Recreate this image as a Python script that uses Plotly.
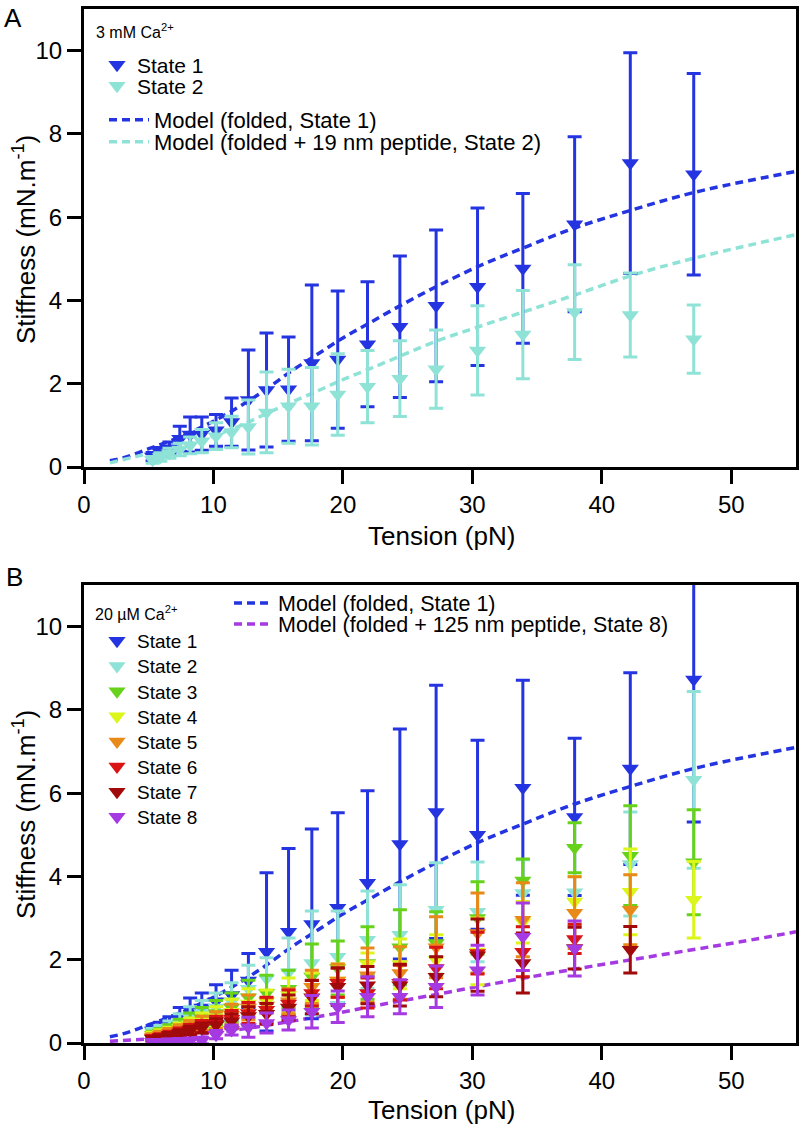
import plotly.graph_objects as go

FONT = "Liberation Sans, Arial, Helvetica, sans-serif"

# ---------------- data ----------------
tension = [5.3, 5.9, 6.6, 7.4, 8.2, 9.1, 10.2, 11.4, 12.7, 14.1, 15.8, 17.6, 19.6, 21.9,
           24.4, 27.2, 30.4, 33.9, 37.9, 42.2, 47.1]

# Panel A (3 mM Ca2+)
a_state1 = [0.25, 0.35, 0.45, 0.68, 0.78, 0.80, 0.88, 1.08, 1.61, 1.85, 1.87, 2.50, 2.58, 2.95,
            3.37, 3.87, 4.33, 4.77, 5.83, 7.30, 7.03]
a_state1_err = [0.10, 0.12, 0.15, 0.30, 0.42, 0.40, 0.38, 0.58, 1.20, 1.37, 1.25, 1.87, 1.65, 1.50,
                1.70, 1.82, 1.89, 1.80, 2.10, 2.65, 2.42]
a_state2 = [0.17, 0.24, 0.33, 0.42, 0.52, 0.62, 0.74, 0.84, 0.96, 1.31, 1.46, 1.46, 1.74, 1.93,
            2.12, 2.35, 2.80, 3.18, 3.72, 3.65, 3.07]
a_state2_err = [0.08, 0.10, 0.12, 0.15, 0.20, 0.28, 0.32, 0.38, 0.65, 0.97, 0.89, 0.93, 0.98, 0.87,
                0.91, 0.94, 1.07, 1.06, 1.14, 1.01, 0.82]

# Panel B (20 uM Ca2+)
b_state1 = [0.30, 0.35, 0.45, 0.60, 0.80, 0.85, 1.00, 1.15, 1.50, 2.19, 2.67, 2.86, 3.25, 3.85,
            4.78, 5.55, 5.00, 6.13, 5.43, 6.59, 8.73]
b_state1_err = [0.12, 0.15, 0.18, 0.25, 0.28, 0.35, 0.40, 0.60, 0.65, 1.90, 2.00, 2.28, 2.28, 2.21,
                2.76, 3.04, 2.27, 2.58, 1.89, 2.30, 3.42]
b_state2 = [0.25, 0.30, 0.38, 0.50, 0.62, 0.72, 0.85, 1.00, 1.30, 1.55, 1.70, 1.92, 2.07, 2.48,
            2.60, 3.20, 3.15, 3.60, 3.62, 4.30, 6.32]
b_state2_err = [0.10, 0.12, 0.15, 0.20, 0.25, 0.30, 0.35, 0.45, 0.57, 0.50, 0.82, 1.25, 1.10, 1.17,
                1.20, 1.13, 1.20, 0.80, 1.10, 1.25, 2.12]
b_state3 = [0.20, 0.25, 0.32, 0.42, 0.52, 0.60, 0.72, 0.85, 1.10, 1.20, 1.30, 1.60, 1.80, 1.92,
            2.30, 2.40, 3.00, 3.90, 4.69, 4.50, 4.34]
b_state3_err = [0.08, 0.10, 0.12, 0.15, 0.20, 0.25, 0.30, 0.35, 0.41, 0.43, 0.45, 0.78, 0.65, 0.87,
                0.90, 0.75, 0.87, 0.52, 0.60, 1.20, 1.26]
b_state4 = [0.18, 0.22, 0.28, 0.36, 0.45, 0.52, 0.62, 0.75, 0.95, 1.00, 1.15, 1.35, 1.50, 1.90,
            1.90, 2.00, 2.20, 2.90, 3.40, 3.63, 3.44]
b_state4_err = [0.08, 0.10, 0.10, 0.12, 0.15, 0.20, 0.25, 0.30, 0.35, 0.27, 0.41, 0.33, 0.40, 0.26,
                0.60, 0.60, 0.80, 0.50, 0.60, 1.03, 0.92]
b_state5 = [0.15, 0.20, 0.25, 0.32, 0.40, 0.47, 0.55, 0.68, 0.85, 0.90, 1.00, 1.35, 1.50, 1.63,
            1.68, 2.30, 2.64, 2.96, 3.13, 3.20, None]
b_state5_err = [0.07, 0.08, 0.10, 0.12, 0.14, 0.17, 0.20, 0.25, 0.30, 0.18, 0.30, 0.40, 0.40, 0.65,
                0.63, 0.73, 0.96, 0.89, 0.86, 0.84, None]
b_state6 = [0.12, 0.15, 0.20, 0.26, 0.33, 0.40, 0.47, 0.58, 0.72, 0.80, 0.95, 1.20, 1.45, 1.20,
            1.45, 1.80, 2.16, 2.19, 2.50, None, None]
b_state6_err = [0.06, 0.07, 0.08, 0.10, 0.12, 0.14, 0.17, 0.20, 0.25, 0.30, 0.32, 0.31, 0.35, 0.36,
                0.42, 0.50, 0.50, 0.60, 0.35, None, None]
b_state7 = [0.10, 0.13, 0.18, 0.23, 0.30, 0.36, 0.43, 0.52, 0.65, 0.70, 0.85, 1.10, 1.35, 1.39,
            1.39, 1.59, 2.11, 1.92, 2.28, 2.24, None]
b_state7_err = [0.05, 0.06, 0.07, 0.09, 0.10, 0.12, 0.15, 0.18, 0.22, 0.25, 0.30, 0.40, 0.45, 0.45,
                0.50, 0.48, 0.87, 0.72, 0.50, 0.56, None]
b_state8 = [0.03, 0.03, 0.04, 0.05, 0.05, 0.06, 0.20, 0.31, 0.38, 0.48, 0.55, 0.75, 0.87, 1.11,
            1.11, 1.35, 1.75, 2.55, 2.27, None, None]
b_state8_err = [0.05, 0.05, 0.05, 0.06, 0.07, 0.08, 0.10, 0.12, 0.24, 0.24, 0.24, 0.39, 0.38, 0.48,
                0.41, 0.50, 0.60, 0.81, 0.66, None, None]

# Model curves
model_folded_x = [2, 3, 4, 5, 6, 7, 8, 10, 12, 14, 16, 18, 20, 22, 24.4, 27.2, 30.4, 34, 37.9,
                  42.3, 47.2, 55]
model_folded_y = [0.15, 0.22, 0.32, 0.44, 0.55, 0.67, 0.80, 1.10, 1.45, 1.85, 2.30, 2.70, 3.10,
                  3.45, 3.87, 4.33, 4.81, 5.27, 5.74, 6.17, 6.60, 7.10]
model_19nm_x = [2, 4, 6, 8, 10, 12, 14, 16, 18, 20, 22, 24.4, 27.2, 30.4, 34, 37.9, 42.3, 47.2, 55]
model_19nm_y = [0.10, 0.25, 0.40, 0.55, 0.75, 0.98, 1.27, 1.55, 1.82, 2.10, 2.35, 2.66, 3.02,
                3.36, 3.73, 4.13, 4.60, 5.02, 5.58]
model_125nm_x = [2, 5, 8, 10, 12.8, 16, 19.8, 22.9, 25.2, 30, 34, 38, 42.3, 47, 50.7, 55]
model_125nm_y = [0.04, 0.10, 0.18, 0.24, 0.36, 0.52, 0.73, 0.92, 1.05, 1.33, 1.56, 1.78, 2.00,
                 2.24, 2.43, 2.67]

state_names = ["State 1", "State 2", "State 3", "State 4", "State 5", "State 6", "State 7", "State 8"]
state_colors = ["#2434e0", "#8fe3d6", "#66d21a", "#dcf51a", "#e8891a", "#d81414", "#a00a0a", "#a63ae2"]
x_ticks = [0, 10, 20, 30, 40, 50]
y_ticks = [0, 2, 4, 6, 8, 10]

# ---------------- layout helpers ----------------
W, H = 800, 1127
L, R, T, B = 84, 4, 9, 84
PW, PH = W - L - R, H - T - B


def px_x(px):
    return (px - L) / PW


def px_y(py):
    return (H - B - py) / PH


def legend_at(xpx, ypx, size, itemwidth=30):
    return dict(x=px_x(xpx), y=px_y(ypx), xanchor="left", yanchor="middle",
                bgcolor="rgba(0,0,0,0)", borderwidth=0, itemwidth=itemwidth,
                font=dict(family=FONT, size=size, color="black"),
                itemclick=False, itemdoubleclick=False)


fig = go.Figure()
layout_legends = {}
leg_counter = [0]


def next_legend(spec):
    leg_counter[0] += 1
    name = "legend" if leg_counter[0] == 1 else f"legend{leg_counter[0]}"
    layout_legends[name] = spec
    return name


def model_trace(xs, ys, color, name, xa, ya, legend):
    fig.add_trace(go.Scatter(x=xs, y=ys, mode="lines", name=name, xaxis=xa, yaxis=ya,
                             line=dict(color=color, width=3.5, dash="8px,5px", shape="spline"),
                             legend=legend, hoverinfo="skip"))


def state_trace(ys, errs, color, name, xa, ya, legend):
    fig.add_trace(go.Scatter(x=tension, y=ys, mode="markers", name=name, xaxis=xa, yaxis=ya,
                             marker=dict(symbol="triangle-down", size=15, color=color,
                                         line=dict(width=0)),
                             error_y=dict(type="data", array=errs, visible=True, color=color,
                                          thickness=3, width=7),
                             legend=legend))


# Panel A
model_trace(model_folded_x, model_folded_y, state_colors[0], "Model (folded, State 1)", "x", "y",
            next_legend(legend_at(104, 120, 22, 40)))
model_trace(model_19nm_x, model_19nm_y, state_colors[1], "Model (folded + 19 nm peptide, State 2)",
            "x", "y", next_legend(legend_at(104, 142, 22, 40)))
state_trace(a_state1, a_state1_err, state_colors[0], "State 1", "x", "y",
            next_legend(legend_at(97, 65, 21)))
state_trace(a_state2, a_state2_err, state_colors[1], "State 2", "x", "y",
            next_legend(legend_at(97, 86, 21)))

# Panel B
model_trace(model_folded_x, model_folded_y, state_colors[0], "Model (folded, State 1)", "x2", "y2",
            next_legend(legend_at(229, 603, 21.5, 39)))
model_trace(model_125nm_x, model_125nm_y, state_colors[7], "Model (folded + 125 nm peptide, State 8)",
            "x2", "y2", next_legend(legend_at(229, 624, 21.5, 39)))
b_states = [(b_state1, b_state1_err), (b_state2, b_state2_err), (b_state3, b_state3_err),
            (b_state4, b_state4_err), (b_state5, b_state5_err), (b_state6, b_state6_err),
            (b_state7, b_state7_err), (b_state8, b_state8_err)]
for i, (ys, errs) in enumerate(b_states):
    state_trace(ys, errs, state_colors[i], state_names[i], "x2", "y2",
                next_legend(legend_at(97, 641 + 25.14 * i, 19)))

axis_common = dict(showline=True, linecolor="black", linewidth=3, mirror=True, ticks="outside",
                   ticklen=14, tickwidth=3, tickcolor="black", showgrid=False, zeroline=False,
                   automargin=False,
                   tickfont=dict(family=FONT, size=24, color="black"), fixedrange=True)

dom_a = [px_y(467), 1.0]
dom_b = [0.0, px_y(585)]

fig.update_layout(
    template="none",
    width=W, height=H, margin=dict(l=L, r=R, t=T, b=B, pad=0, autoexpand=False), autosize=False,
    paper_bgcolor="white", plot_bgcolor="white", showlegend=True,
    font=dict(family=FONT, color="black"),
    xaxis=dict(axis_common, range=[0, 55], tickvals=x_ticks, anchor="y"),
    yaxis=dict(axis_common, range=[0, 11], tickvals=y_ticks, domain=dom_a, anchor="x"),
    xaxis2=dict(axis_common, range=[0, 55], tickvals=x_ticks, anchor="y2"),
    yaxis2=dict(axis_common, range=[0, 11], tickvals=y_ticks, domain=dom_b, anchor="x2"),
    **layout_legends,
)

ann = [
    dict(text="A", x=px_x(13), y=px_y(18), font=dict(size=26)),
    dict(text="B", x=px_x(14), y=px_y(577), font=dict(size=26)),
    dict(text="Tension (pN)", x=px_x(441), y=px_y(536), font=dict(size=26)),
    dict(text="Tension (pN)", x=px_x(441), y=px_y(1110), font=dict(size=26)),
    dict(text="Stiffness (mN.m<sup>-1</sup>)", x=px_x(24), y=px_y(240), font=dict(size=26),
         textangle=-90),
    dict(text="Stiffness (mN.m<sup>-1</sup>)", x=px_x(24), y=px_y(815), font=dict(size=26),
         textangle=-90),
]
annotations = []
for a in ann:
    a.update(xref="paper", yref="paper", showarrow=False, xanchor="center", yanchor="middle")
    a["font"] = dict(a["font"], family=FONT, color="black")
    annotations.append(a)
annotations.append(dict(text="3 mM Ca<sup>2+</sup>", x=px_x(94), y=px_y(31), xref="paper",
                        yref="paper", showarrow=False, xanchor="left", yanchor="middle",
                        font=dict(family=FONT, size=16, color="black")))
annotations.append(dict(text="20 µM Ca<sup>2+</sup>", x=px_x(93), y=px_y(613), xref="paper",
                        yref="paper", showarrow=False, xanchor="left", yanchor="middle",
                        font=dict(family=FONT, size=16, color="black")))
fig.update_layout(annotations=annotations)

fig.write_html("out.html", config={"displayModeBar": False},
               post_script="document.body.style.margin='0px';document.body.style.padding='0px';")
